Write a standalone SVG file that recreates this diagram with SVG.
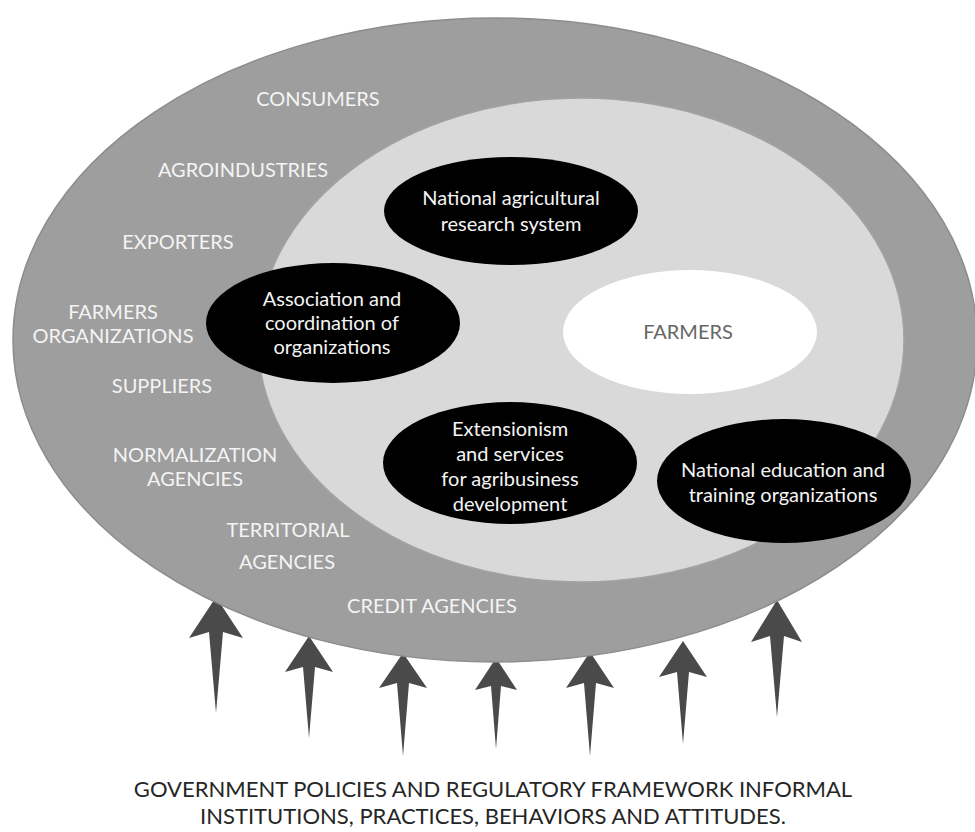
<svg xmlns="http://www.w3.org/2000/svg" width="975" height="832" viewBox="0 0 975 832">
<style>
.arrow{fill:#4a4a4a}
.outer{fill:#9e9e9e;stroke:#8c8c8c;stroke-width:1.5}
.inner{fill:#d9d9d9;stroke:#a3a3a3;stroke-width:1.5}
.blk{fill:#000}
.wht{fill:#fff}
text{font-family:Lato,"Noto Sans","Liberation Sans",sans-serif;text-anchor:middle}
.lbl{fill:#f4f4f4;font-size:20px}
.nt{fill:#f4f4f4;font-size:20px}
.ft{fill:#666;font-size:20px}
.bt{fill:#262626;font-size:22px}
</style>
<rect width="975" height="832" fill="#fff"/>
<g id="connectors">
<path class="arrow" d="M216,597 L243,638 L223,632 L216,713 L209,632 L189,638 Z"/>
<path class="arrow" d="M309,636 L333,672 L315,667 L309,738 L303,667 L285,672 Z"/>
<path class="arrow" d="M403,653 L427,688 L409,683 L403,756 L397,683 L379,688 Z"/>
<path class="arrow" d="M496,658 L517,690 L501,686 L496,749 L491,686 L475,690 Z"/>
<path class="arrow" d="M590,652 L614,688 L596,683 L590,756 L584,683 L566,688 Z"/>
<path class="arrow" d="M683,641 L707,677 L689,672 L683,744 L677,672 L659,677 Z"/>
<path class="arrow" d="M777,600 L802,642 L784,636 L777,717 L770,636 L751,642 Z"/>
</g>
<g id="outer">
<ellipse class="outer" cx="495" cy="340" rx="482" ry="322"/>
<text class="lbl" x="318" y="106">CONSUMERS</text>
<text class="lbl" x="243" y="177">AGROINDUSTRIES</text>
<text class="lbl" x="178" y="249">EXPORTERS</text>
<text class="lbl" x="113" y="319">FARMERS</text>
<text class="lbl" x="113" y="343">ORGANIZATIONS</text>
<text class="lbl" x="162" y="393">SUPPLIERS</text>
<text class="lbl" x="195" y="462">NORMALIZATION</text>
<text class="lbl" x="195" y="486">AGENCIES</text>
<text class="lbl" x="288" y="537">TERRITORIAL</text>
<text class="lbl" x="287" y="569">AGENCIES</text>
<text class="lbl" x="432" y="613">CREDIT AGENCIES</text>
</g>
<g id="inner">
<ellipse class="inner" cx="581" cy="340" rx="323" ry="242"/>
</g>
<g id="research">
<ellipse class="blk" cx="511" cy="211" rx="127" ry="54"/>
<text class="nt" x="511" y="205">National agricultural</text>
<text class="nt" x="511" y="231">research system</text>
</g>
<g id="association">
<ellipse class="blk" cx="333" cy="323" rx="127" ry="60"/>
<text class="nt" x="332" y="306">Association and</text>
<text class="nt" x="332" y="330">coordination of</text>
<text class="nt" x="332" y="354">organizations</text>
</g>
<g id="farmers">
<ellipse class="wht" cx="690" cy="332" rx="127" ry="62"/>
<text class="ft" x="688" y="339">FARMERS</text>
</g>
<g id="extension">
<ellipse class="blk" cx="510" cy="463" rx="127" ry="61"/>
<text class="nt" x="510" y="436">Extensionism</text>
<text class="nt" x="510" y="461">and services</text>
<text class="nt" x="510" y="486">for agribusiness</text>
<text class="nt" x="510" y="511">development</text>
</g>
<g id="education">
<ellipse class="blk" cx="784" cy="481" rx="127" ry="62"/>
<text class="nt" x="783" y="477">National education and</text>
<text class="nt" x="783" y="502">training organizations</text>
</g>
<g id="caption">
<text class="bt" x="493" y="797">GOVERNMENT POLICIES AND REGULATORY FRAMEWORK INFORMAL</text>
<text class="bt" x="493" y="824">INSTITUTIONS, PRACTICES, BEHAVIORS AND ATTITUDES.</text>
</g>
</svg>
